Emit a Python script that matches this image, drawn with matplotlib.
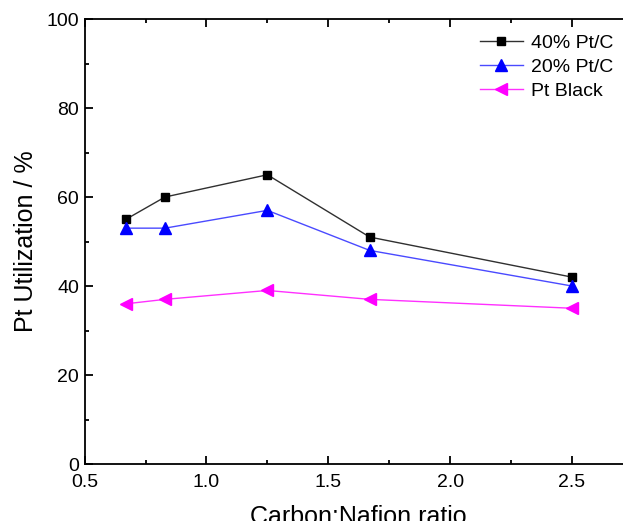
import numpy as np
import matplotlib
matplotlib.use("Agg")
import matplotlib.pyplot as plt

# carbon:nafion ratio and Pt utilization (%)
ratio = [0.67, 0.83, 1.25, 1.67, 2.5]
pt40 = [55, 60, 65, 51, 42]
pt20 = [53, 53, 57, 48, 40]
ptblack = [36, 37, 39, 37, 35]

plt.rcParams['font.family'] = ['Liberation Sans', 'DejaVu Sans']

fig = plt.figure(figsize=(6.23, 5.21), dpi=100)
ax1 = fig.add_axes([0.1358, 0.1094, 0.88, 0.8541])

ax1.plot(ratio, pt40, color='#303030', linewidth=1, marker='s', markersize=6,
         markerfacecolor='black', markeredgecolor='black', label='40% Pt/C')
ax1.plot(ratio, pt20, color='#4a4aff', linewidth=1, marker='^', markersize=8,
         markerfacecolor='#0000ff', markeredgecolor='#0000ff', label='20% Pt/C')
ax1.plot(ratio, ptblack, color='#ff30ff', linewidth=1, marker='<', markersize=8,
         markerfacecolor='#ff00ff', markeredgecolor='#ff00ff', label='Pt Black')

ax1.set_xlim(0.5, 2.75)
ax1.set_ylim(0, 100)
ax1.set_xticks([0.5, 1.0, 1.5, 2.0, 2.5])
ax1.set_xticks([0.75, 1.25, 1.75, 2.25, 2.75], minor=True)
ax1.set_yticks([0, 20, 40, 60, 80, 100])
ax1.set_yticks([10, 30, 50, 70, 90], minor=True)
ax1.tick_params(which='both', direction='in', top=True, right=False,
                labelsize=14, width=1.3)
ax1.tick_params(which='major', length=6)
ax1.tick_params(which='minor', length=3)
ax1.tick_params(axis='x', which='major', pad=7)
ax1.tick_params(axis='y', which='major', pad=4)
ax1.spines['right'].set_visible(False)
for s in ['left', 'bottom', 'top']:
    ax1.spines[s].set_linewidth(1.3)

ax1.set_xlabel('Carbon:Nafion ratio', fontsize=18, labelpad=10)
ax1.set_ylabel('Pt Utilization / %', fontsize=18, labelpad=6)

fig.legend(loc='upper left', bbox_to_anchor=(480 / 623, 1 - 34 / 521),
           frameon=False, fontsize=14, handlelength=2.2, handletextpad=0.4,
           labelspacing=0.33, borderaxespad=0, borderpad=0)

fig.savefig('out.png', dpi=100)
